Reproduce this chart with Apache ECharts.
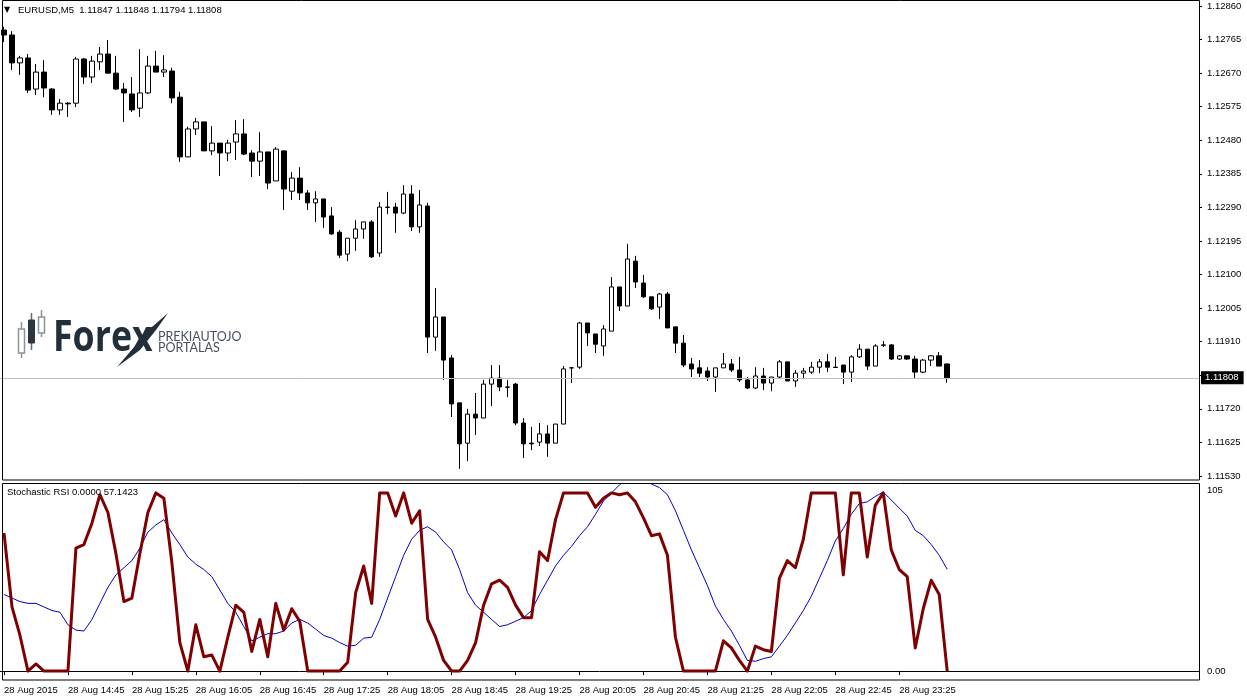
<!DOCTYPE html>
<html>
<head>
<meta charset="utf-8">
<title>EURUSD M5</title>
<script src="https://cdn.jsdelivr.net/npm/echarts@6.0.0/dist/echarts.min.js"></script>
<style>
  html, body { margin: 0; padding: 0; background: #fff; }
  #chart { width: 1247px; height: 699px; }
</style>
</head>
<body>
<div id="chart"></div>
<script>
// EURUSD M5, 28 Aug 2015 14:05 .. 23:55, one candle every 5 minutes
var symbolName = "EURUSD,M5";
var startHour = 14, startMinute = 5, stepMinutes = 5;
var emptySlots = 31;          // chart shift on the right

// [open, close, low, high]
var candles = [
    [1.12792, 1.12778, 1.12758, 1.12801],
    [1.12778, 1.12699, 1.12679, 1.12789],
    [1.12699, 1.12713, 1.12665, 1.12719],
    [1.12713, 1.12622, 1.12614, 1.12724],
    [1.12625, 1.12673, 1.12608, 1.12696],
    [1.12673, 1.12628, 1.12602, 1.12707],
    [1.12625, 1.12566, 1.12552, 1.12628],
    [1.12566, 1.12585, 1.12552, 1.12597],
    [1.12585, 1.12583, 1.12546, 1.12588],
    [1.12585, 1.12710, 1.12574, 1.12716],
    [1.12710, 1.12659, 1.12639, 1.12713],
    [1.12659, 1.12704, 1.12642, 1.12719],
    [1.12702, 1.12724, 1.12679, 1.12744],
    [1.12724, 1.12670, 1.12670, 1.12764],
    [1.12670, 1.12625, 1.12622, 1.12719],
    [1.12625, 1.12614, 1.12532, 1.12642],
    [1.12611, 1.12566, 1.12560, 1.12659],
    [1.12571, 1.12614, 1.12546, 1.12738],
    [1.12614, 1.12690, 1.12611, 1.12719],
    [1.12690, 1.12673, 1.12673, 1.12733],
    [1.12673, 1.12679, 1.12659, 1.12721],
    [1.12676, 1.12600, 1.12585, 1.12685],
    [1.12602, 1.12433, 1.12419, 1.12617],
    [1.12433, 1.12512, 1.12433, 1.12518],
    [1.12512, 1.12532, 1.12495, 1.12543],
    [1.12532, 1.12450, 1.12450, 1.12532],
    [1.12450, 1.12472, 1.12438, 1.12520],
    [1.12472, 1.12444, 1.12379, 1.12472],
    [1.12444, 1.12472, 1.12421, 1.12481],
    [1.12475, 1.12498, 1.12424, 1.12537],
    [1.12498, 1.12441, 1.12438, 1.12540],
    [1.12444, 1.12421, 1.12376, 1.12452],
    [1.12421, 1.12447, 1.12379, 1.12503],
    [1.12447, 1.12359, 1.12342, 1.12447],
    [1.12365, 1.12455, 1.12365, 1.12461],
    [1.12450, 1.12342, 1.12283, 1.12452],
    [1.12336, 1.12373, 1.12311, 1.12390],
    [1.12373, 1.12331, 1.12311, 1.12404],
    [1.12331, 1.12303, 1.12283, 1.12339],
    [1.12303, 1.12314, 1.12249, 1.12336],
    [1.12314, 1.12263, 1.12232, 1.12314],
    [1.12266, 1.12215, 1.12212, 1.12291],
    [1.12220, 1.12155, 1.12147, 1.12226],
    [1.12158, 1.12203, 1.12138, 1.12203],
    [1.12203, 1.12229, 1.12167, 1.12254],
    [1.12229, 1.12249, 1.12201, 1.12249],
    [1.12249, 1.12150, 1.12147, 1.12254],
    [1.12161, 1.12291, 1.12150, 1.12305],
    [1.12291, 1.12290, 1.12271, 1.12334],
    [1.12291, 1.12274, 1.12218, 1.12303],
    [1.12274, 1.12328, 1.12271, 1.12353],
    [1.12328, 1.12235, 1.12223, 1.12353],
    [1.12235, 1.12297, 1.12218, 1.12339],
    [1.12294, 1.11923, 1.11878, 1.12303],
    [1.11923, 1.11980, 1.11884, 1.12062],
    [1.11980, 1.11858, 1.11802, 1.11980],
    [1.11864, 1.11734, 1.11697, 1.11872],
    [1.11737, 1.11621, 1.11550, 1.11737],
    [1.11623, 1.11705, 1.11572, 1.11720],
    [1.11705, 1.11694, 1.11646, 1.11765],
    [1.11694, 1.11790, 1.11694, 1.11802],
    [1.11790, 1.11807, 1.11728, 1.11844],
    [1.11807, 1.11782, 1.11770, 1.11844],
    [1.11782, 1.11781, 1.11753, 1.11802],
    [1.11790, 1.11680, 1.11674, 1.11793],
    [1.11680, 1.11621, 1.11581, 1.11694],
    [1.11623, 1.11621, 1.11603, 1.11669],
    [1.11626, 1.11649, 1.11615, 1.11680],
    [1.11649, 1.11623, 1.11584, 1.11674],
    [1.11623, 1.11677, 1.11623, 1.11677],
    [1.11677, 1.11833, 1.11677, 1.11841],
    [1.11836, 1.11836, 1.11793, 1.11838],
    [1.11838, 1.11963, 1.11833, 1.11966],
    [1.11963, 1.11935, 1.11898, 1.11963],
    [1.11932, 1.11903, 1.11878, 1.11932],
    [1.11898, 1.11946, 1.11870, 1.11957],
    [1.11940, 1.12065, 1.11940, 1.12093],
    [1.12065, 1.12011, 1.11997, 1.12065],
    [1.12011, 1.12144, 1.12011, 1.12187],
    [1.12138, 1.12079, 1.12062, 1.12153],
    [1.12076, 1.12037, 1.12034, 1.12099],
    [1.12037, 1.12003, 1.12000, 1.12037],
    [1.12008, 1.12045, 1.11974, 1.12048],
    [1.12045, 1.11949, 1.11949, 1.12051],
    [1.11952, 1.11906, 1.11878, 1.11952],
    [1.11906, 1.11844, 1.11838, 1.11929],
    [1.11847, 1.11833, 1.11810, 1.11864],
    [1.11836, 1.11821, 1.11810, 1.11858],
    [1.11827, 1.11810, 1.11799, 1.11838],
    [1.11810, 1.11836, 1.11768, 1.11836],
    [1.11836, 1.11847, 1.11836, 1.11878],
    [1.11847, 1.11830, 1.11824, 1.11861],
    [1.11830, 1.11802, 1.11796, 1.11867],
    [1.11802, 1.11779, 1.11776, 1.11810],
    [1.11779, 1.11813, 1.11776, 1.11838],
    [1.11813, 1.11793, 1.11773, 1.11836],
    [1.11793, 1.11810, 1.11770, 1.11810],
    [1.11810, 1.11853, 1.11807, 1.11858],
    [1.11853, 1.11799, 1.11799, 1.11853],
    [1.11799, 1.11821, 1.11782, 1.11830],
    [1.11821, 1.11827, 1.11804, 1.11836],
    [1.11824, 1.11838, 1.11819, 1.11853],
    [1.11838, 1.11853, 1.11821, 1.11861],
    [1.11853, 1.11838, 1.11824, 1.11875],
    [1.11838, 1.11837, 1.11836, 1.11867],
    [1.11844, 1.11824, 1.11790, 1.11844],
    [1.11824, 1.11867, 1.11796, 1.11872],
    [1.11867, 1.11889, 1.11864, 1.11903],
    [1.11889, 1.11841, 1.11830, 1.11889],
    [1.11841, 1.11898, 1.11841, 1.11903],
    [1.11901, 1.11900, 1.11895, 1.11912],
    [1.11901, 1.11861, 1.11858, 1.11903],
    [1.11861, 1.11870, 1.11858, 1.11872],
    [1.11870, 1.11861, 1.11858, 1.11870],
    [1.11861, 1.11824, 1.11807, 1.11870],
    [1.11824, 1.11858, 1.11821, 1.11861],
    [1.11858, 1.11870, 1.11841, 1.11872],
    [1.11870, 1.11841, 1.11841, 1.11881],
    [1.11847, 1.11808, 1.11794, 1.11848]
];

// Stochastic RSI main (%K) and signal lines
var stochMain = [
    77.5, 36, 20, 0, 4, 0, 0, 0, 0, 69,
    71, 83, 99, 89, 66, 39, 41, 66, 89, 100,
    97, 61, 16, 0, 26, 8, 9, 0, 19, 37,
    33, 11, 29, 8, 38, 23, 35, 28, 0, 0,
    0, 0, 0, 5, 44, 59, 38, 100, 100, 87,
    100, 83, 90, 29, 19, 6, 0, 0, 6, 16,
    37, 49, 51, 47, 37, 30, 30, 67, 62, 85,
    100, 100, 100, 100, 92, 97, 100, 99, 100, 95,
    86, 76, 77, 65, 19, 0, 0, 0, 0, 0,
    17, 13, 6, 0, 14, 12, 11, 52, 62, 58,
    74, 100, 100, 100, 100, 54, 100, 100, 64, 93,
    100, 68, 57, 53, 13, 35, 51, 43, 0
];
var stochSignal = [
    43, 41, 39, 38, 38, 36, 34, 33, 26, 23,
    22.5, 29, 38, 47, 54, 58, 62, 69, 78, 82,
    85, 77.5, 71, 64, 60, 57, 53, 45.5, 38, 33,
    25, 17, 19, 21, 21, 22.5, 27, 29, 27, 23.5,
    20, 18.5, 16, 14, 14.5, 18.5, 19, 29, 41, 53,
    65, 74, 79, 81, 78, 72.5, 68, 57, 44, 37,
    33, 29, 25, 26, 28, 30, 34, 43, 51, 59,
    65, 70, 76, 81, 88, 95.5, 100, 104.5, 108, 109,
    107, 105, 103, 99, 90, 79, 68, 58, 48, 36.5,
    29, 22.5, 14.5, 6, 5.5, 7, 8, 14, 20, 27,
    34, 42, 52, 62, 73, 80, 88, 94, 95, 98,
    100.5, 96, 91.5, 87, 79, 76, 71, 65, 57.1423
];

var priceMin = 1.11530, priceMax = 1.12860, priceStep = 0.00095;
var stochMin = -5, stochMax = 105;
var labelEvery = 8;

var FONT = "'Liberation Sans', Arial, sans-serif";
var FSIZE = 9.5;

function pad2(n) { return (n < 10 ? "0" : "") + n; }

var categories = [];
for (var i = 0; i < candles.length + emptySlots; i++) {
    if (i >= candles.length) { categories.push(""); continue; }
    if (i === 0) { categories.push("28 Aug 2015"); continue; }
    var m = startHour * 60 + startMinute + i * stepMinutes;
    categories.push("28 Aug " + pad2(Math.floor(m / 60)) + ":" + pad2(m % 60));
}

function showLabel(index) {
    return index % labelEvery === 0 && index < candles.length;
}

var last = candles[candles.length - 1];
var titleText = symbolName + "  " + last[0].toFixed(5) + " " + last[3].toFixed(5) +
    " " + last[2].toFixed(5) + " " + last[1].toFixed(5);
var stochTitle = "Stochastic RSI " + stochMain[stochMain.length - 1].toFixed(4) +
    " " + stochSignal[stochSignal.length - 1].toFixed(4);

var chart = echarts.init(document.getElementById("chart"), null, { renderer: "canvas" });

var option = {
    animation: false,
    backgroundColor: "#fff",
    grid: [
        { left: -1, width: 1200, top: 6, height: 470 },
        { left: -1, width: 1200, top: 484, height: 196 }
    ],
    xAxis: [
        {
            type: "category", gridIndex: 0, data: categories, boundaryGap: true,
            axisLine: { show: false }, axisTick: { show: false }, axisLabel: { show: false },
            splitLine: { show: false }
        },
        {
            type: "category", gridIndex: 1, data: categories, boundaryGap: true,
            axisLine: { show: true, lineStyle: { color: "#000", width: 1 } },
            axisTick: { show: true, alignWithLabel: true, interval: showLabel, length: 4,
                        lineStyle: { color: "#000" } },
            axisLabel: { interval: showLabel, align: "left", margin: 5, color: "#000",
                         fontSize: FSIZE, fontFamily: FONT },
            splitLine: { show: false }
        }
    ],
    yAxis: [
        {
            type: "value", gridIndex: 0, position: "right",
            min: priceMin, max: priceMax, interval: priceStep,
            axisLine: { show: false },
            axisTick: { show: true, length: 3, lineStyle: { color: "#000" } },
            axisLabel: { margin: 8, color: "#000", fontSize: FSIZE, fontFamily: FONT,
                         formatter: function (v) { return v.toFixed(5); } },
            splitLine: { show: false }
        },
        {
            type: "value", gridIndex: 1, position: "right",
            min: stochMin, max: stochMax, interval: 5,
            axisLine: { show: false },
            axisTick: { show: false },
            axisLabel: {
                margin: 8, color: "#000", fontSize: FSIZE, fontFamily: FONT,
                showMaxLabel: true,
                formatter: function (v) {
                    if (Math.abs(v - stochMax) < 1e-9) return "{top|" + stochMax + "}";
                    if (Math.abs(v) < 1e-9) return "0.00";
                    return "";
                },
                rich: {
                    top: { padding: [13, 0, 0, 0], fontSize: FSIZE, fontFamily: FONT, color: "#000" }
                }
            },
            splitLine: { show: false }
        }
    ],
    series: [
        {
            // holder for the current price line
            name: "Bid", type: "line", xAxisIndex: 0, yAxisIndex: 0,
            data: [[0, last[1]]], symbol: "none", showSymbol: false,
            lineStyle: { width: 0 }, silent: true,
            markLine: {
                silent: true, symbol: "none", animation: false, precision: 5,
                lineStyle: { color: "#c0c0c0", type: "solid", width: 1 },
                label: { show: true, position: "end", distance: 2,
                         formatter: last[1].toFixed(5),
                         backgroundColor: "#000", color: "#fff", padding: [2, 5, 1, 4],
                         fontSize: FSIZE, fontFamily: FONT },
                emphasis: { disabled: true },
                data: [{ yAxis: last[1] }]
            },
            z: 1
        },
        {
            name: "EURUSD", type: "candlestick", xAxisIndex: 0, yAxisIndex: 0,
            data: candles, barWidth: 5,
            itemStyle: { color: "#fff", color0: "#000", borderColor: "#000",
                         borderColor0: "#000", borderWidth: 1 },
            z: 3
        },
        {
            name: "Signal", type: "line", xAxisIndex: 1, yAxisIndex: 1,
            data: stochSignal, symbol: "none", smooth: false,
            lineStyle: { color: "#0000c8", width: 1 }, z: 2
        },
        {
            name: "StochRSI", type: "line", xAxisIndex: 1, yAxisIndex: 1,
            data: stochMain, symbol: "none", smooth: false,
            lineStyle: { color: "#7f0000", width: 3, join: "round" }, z: 3
        }
    ],
    graphic: [
        // window frames
        { type: "rect", z: 10, silent: true, shape: { x: 2.5, y: 0.5, width: 1197, height: 479.5 },
          style: { fill: null, stroke: "#000", lineWidth: 1 } },
        { type: "rect", z: 10, silent: true, shape: { x: 2.5, y: 483.5, width: 1197, height: 196.5 },
          style: { fill: null, stroke: "#000", lineWidth: 1 } },
        // titles
        { type: "text", z: 10, x: 4, y: 10, silent: true,
          style: { text: "\u25BC", fill: "#000", fontSize: 8, fontFamily: "'DejaVu Sans'", verticalAlign: "middle" } },
        { type: "text", z: 10, x: 18, y: 10, silent: true,
          style: { text: titleText, fill: "#000", fontSize: FSIZE, fontFamily: FONT, verticalAlign: "middle" } },
        { type: "text", z: 10, x: 7, y: 492, silent: true,
          style: { text: stochTitle, fill: "#000", fontSize: FSIZE, fontFamily: FONT, verticalAlign: "middle" } },
        // watermark logo
        { type: "group", z: 1, silent: true, children: [
            { type: "line", shape: { x1: 21.5, y1: 322, x2: 21.5, y2: 358 }, style: { stroke: "#8b939b", lineWidth: 1.5 } },
            { type: "rect", shape: { x: 18.5, y: 329, width: 6, height: 24 }, style: { fill: "#fff", stroke: "#8b939b", lineWidth: 1.5 } },
            { type: "line", shape: { x1: 31.5, y1: 313, x2: 31.5, y2: 350 }, style: { stroke: "#5f6a74", lineWidth: 1.5 } },
            { type: "rect", shape: { x: 28.5, y: 320, width: 6, height: 23 }, style: { fill: "#2b3641", stroke: "#2b3641", lineWidth: 1 } },
            { type: "line", shape: { x1: 41.5, y1: 310, x2: 41.5, y2: 337 }, style: { stroke: "#8b939b", lineWidth: 1.5 } },
            { type: "rect", shape: { x: 38.5, y: 317, width: 6, height: 16 }, style: { fill: "#fff", stroke: "#8b939b", lineWidth: 1.5 } },
            { type: "text", x: 53, y: 339, scaleX: 0.83, originX: 0,
              style: { text: "Forex", fill: "#222e3a", fontSize: 43, fontWeight: "bold",
                       fontFamily: "'Open Sans', sans-serif", verticalAlign: "middle" } },
            { type: "polygon", shape: { points: [[117, 367], [135, 346], [152, 327], [168, 313], [156, 330], [140, 350]] },
              style: { fill: "#222e3a" } },
            { type: "text", x: 158, y: 337, style: { text: "PREKIAUTOJO", fill: "#46515c", fontSize: 12.5,
              fontFamily: "Lato, sans-serif", verticalAlign: "middle" } },
            { type: "text", x: 158, y: 347.5, style: { text: "PORTALAS", fill: "#46515c", fontSize: 12.5,
              fontFamily: "Lato, sans-serif", verticalAlign: "middle" } }
        ] }
    ]
};

chart.setOption(option);
</script>
</body>
</html>
